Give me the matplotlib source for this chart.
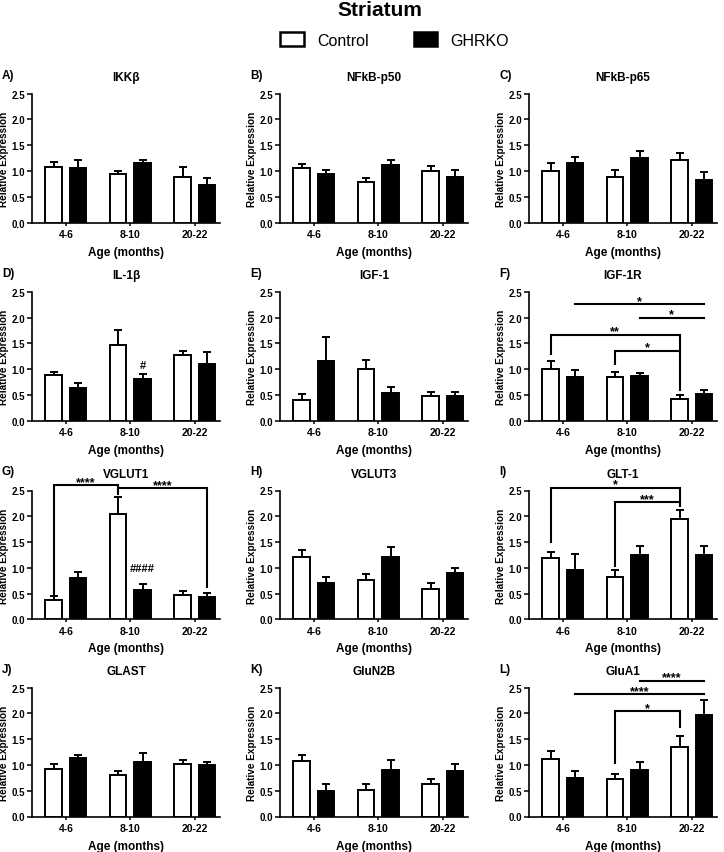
import numpy as np
import matplotlib
matplotlib.use("Agg")
import matplotlib.pyplot as plt
from matplotlib.patches import Patch

plt.rcParams['font.family'] = ['Liberation Sans', 'DejaVu Sans']

# ---------------- data ----------------
groups = ["4-6", "8-10", "20-22"]
series_names = ["Control", "GHRKO"]
panel_letters = ["A)", "B)", "C)", "D)", "E)", "F)", "G)", "H)", "I)", "J)", "K)", "L)"]
panel_titles = ["IKKβ", "NFkB-p50", "NFkB-p65", "IL-1β", "IGF-1", "IGF-1R",
                "VGLUT1", "VGLUT3", "GLT-1", "GLAST", "GluN2B", "GluA1"]

control_mean = [
    [1.07, 0.95, 0.89],   # IKKb
    [1.05, 0.78, 1.00],   # NFkB-p50
    [1.00, 0.88, 1.22],   # NFkB-p65
    [0.89, 1.46, 1.28],   # IL-1b
    [0.41, 1.00, 0.48],   # IGF-1
    [1.00, 0.84, 0.43],   # IGF-1R
    [0.38, 2.04, 0.47],   # VGLUT1
    [1.21, 0.77, 0.58],   # VGLUT3
    [1.19, 0.83, 1.94],   # GLT-1
    [0.92, 0.81, 1.01],   # GLAST
    [1.07, 0.51, 0.63],   # GluN2B
    [1.12, 0.73, 1.35],   # GluA1
]
control_err = [
    [0.11, 0.05, 0.18],
    [0.09, 0.09, 0.10],
    [0.16, 0.14, 0.13],
    [0.05, 0.30, 0.08],
    [0.10, 0.17, 0.08],
    [0.16, 0.11, 0.06],
    [0.07, 0.33, 0.07],
    [0.13, 0.11, 0.13],
    [0.12, 0.12, 0.19],
    [0.09, 0.07, 0.09],
    [0.12, 0.12, 0.10],
    [0.15, 0.10, 0.22],
]
ghrko_mean = [
    [1.06, 1.15, 0.73],
    [0.94, 1.12, 0.89],
    [1.16, 1.25, 0.82],
    [0.64, 0.80, 1.10],
    [1.16, 0.54, 0.48],
    [0.84, 0.87, 0.51],
    [0.80, 0.56, 0.44],
    [0.71, 1.20, 0.89],
    [0.96, 1.25, 1.24],
    [1.13, 1.05, 0.99],
    [0.50, 0.91, 0.89],
    [0.75, 0.90, 1.97],
]
ghrko_err = [
    [0.16, 0.06, 0.14],
    [0.07, 0.10, 0.13],
    [0.12, 0.14, 0.16],
    [0.09, 0.10, 0.23],
    [0.47, 0.12, 0.08],
    [0.14, 0.06, 0.09],
    [0.11, 0.12, 0.07],
    [0.12, 0.21, 0.11],
    [0.31, 0.18, 0.18],
    [0.07, 0.19, 0.07],
    [0.14, 0.19, 0.13],
    [0.13, 0.16, 0.29],
]
y_ticks = [0.0, 0.5, 1.0, 1.5, 2.0, 2.5]

# significance annotations: panel index -> list of
# (group1, series1, group2, series2, line_y, leg1_bottom, leg2_bottom, label)
# series 0 = Control, 1 = GHRKO; leg None = no leg
annotations = {
    5: [(0, 1, 2, 1, 2.26, None, None, "*"),
        (1, 1, 2, 1, 1.99, None, None, "*"),
        (0, 0, 2, 0, 1.66, 1.30, 0.60, "**"),
        (1, 0, 2, 0, 1.36, 1.10, None, "*")],
    6: [(0, 0, 1, 0, 2.60, 0.50, 2.44, "****"),
        (1, 0, 2, 1, 2.54, None, 0.62, "****")],
    8: [(0, 0, 2, 0, 2.55, 1.50, 2.20, "*"),
        (1, 0, 2, 0, 2.27, 1.04, None, "***")],
    11: [(1, 1, 2, 1, 2.63, None, None, "****"),
         (0, 1, 2, 1, 2.37, None, None, "****"),
         (1, 0, 2, 0, 2.04, 1.03, 1.73, "*")],
}
# hash marks (panel, group, series, label, y_center)
hash_marks = [(3, 1, 1, "#", 1.08), (6, 1, 1, "####", 1.0)]

# ---------------- layout ----------------
W, H = 724, 853
fig = plt.figure(figsize=(W / 100, H / 100), dpi=100)

col_left = [32, 280, 529]
ax_w = 188
row_bottom = [223.5, 421.7, 620.3, 817.5]   # pixel y of the 0.0 line
ax_h = 128.8

bar_w = 0.26
off = 0.19
xs = np.arange(len(groups))

def xpos(g, s):
    return xs[g] + (off if s == 1 else -off)

for i in range(12):
    r, c = divmod(i, 3)
    ax = fig.add_axes([col_left[c] / W, 1 - row_bottom[r] / H, ax_w / W, ax_h / H])
    cm, ce = control_mean[i], control_err[i]
    gm, ge = ghrko_mean[i], ghrko_err[i]
    ax.bar(xs - off, cm, bar_w, color="white", edgecolor="black", linewidth=1.4, zorder=3)
    ax.bar(xs + off, gm, bar_w, color="black", edgecolor="black", linewidth=1.4, zorder=3)
    ax.errorbar(xs - off, cm, yerr=[np.zeros(3), ce], fmt="none", ecolor="black",
                elinewidth=1.4, capsize=3.2, capthick=1.4, zorder=2)
    ax.errorbar(xs + off, gm, yerr=[np.zeros(3), ge], fmt="none", ecolor="black",
                elinewidth=1.4, capsize=3.2, capthick=1.4, zorder=2)
    ax.set_xlim(-0.525, 2.39)
    ax.set_ylim(0, 2.5)
    ax.set_yticks(y_ticks)
    ax.set_yticklabels([f"{t:.1f}" for t in y_ticks], fontsize=7, fontweight="bold")
    ax.set_xticks(xs)
    ax.set_xticklabels(groups, fontsize=7.5, fontweight="bold")
    ax.tick_params(axis="y", length=3.5, width=1.1, pad=1.5)
    ax.tick_params(axis="x", length=2.5, width=1.1, pad=2)
    for sp in ["top", "right"]:
        ax.spines[sp].set_visible(False)
    for sp in ["left", "bottom"]:
        ax.spines[sp].set_linewidth(1.2)
    ax.set_ylabel("Relative Expression", fontsize=7.2, fontweight="bold", labelpad=2)
    ax.set_xlabel("Age (months)", fontsize=8.5, fontweight="bold", labelpad=5)
    ax.set_title(panel_titles[i], fontsize=8.5, fontweight="bold", pad=10)
    fig.text((col_left[c] - 30) / W, 1 - (row_bottom[r] - ax_h - 19) / H, panel_letters[i],
             fontsize=8.5, fontweight="bold", ha="left", va="center")

    for (g1, s1, g2, s2, y, l1, l2, lab) in annotations.get(i, []):
        x1, x2 = xpos(g1, s1), xpos(g2, s2)
        px = [x1, x2]
        py = [y, y]
        if l1 is not None:
            px = [x1] + px
            py = [l1] + py
        if l2 is not None:
            px = px + [x2]
            py = py + [l2]
        ax.plot(px, py, color="black", lw=1.5, clip_on=False, zorder=4,
                solid_joinstyle="miter")
        ax.text((x1 + x2) / 2, y + 0.01, lab, ha="center", va="baseline",
                fontsize=9, fontweight="bold", clip_on=False)
    for (p, g, s, lab, yc) in hash_marks:
        if p == i:
            ax.text(xpos(g, s), yc, lab, ha="center", va="center",
                    fontsize=8, fontweight="bold")

fig.text(0.524, 1 - 11 / H, "Striatum", ha="center", va="center",
         fontsize=15, fontweight="bold")
handles = [Patch(facecolor="white", edgecolor="black", linewidth=1.8),
           Patch(facecolor="black", edgecolor="black", linewidth=1.8)]
fig.legend(handles, series_names, loc="center", bbox_to_anchor=(0.545, 1 - 41 / H),
           ncol=2, frameon=False, fontsize=11.5, handlelength=1.5, handleheight=0.9,
           columnspacing=2.8, handletextpad=0.8)

fig.savefig("out.png", dpi=100)
